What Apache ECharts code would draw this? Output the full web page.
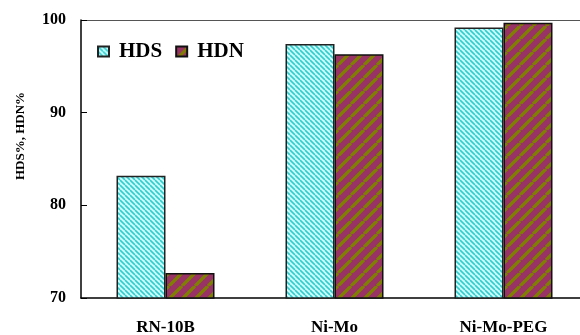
<!DOCTYPE html>
<html><head><meta charset="utf-8">
<script src="https://cdn.jsdelivr.net/npm/echarts@6/dist/echarts.min.js"></script>
<style>html,body{margin:0;padding:0;background:#fff}#c{width:580px;height:335px}</style>
</head><body><div id="c"></div>
<script>
const categories = ['RN-10B', 'Ni-Mo', 'Ni-Mo-PEG'];
const hdsValues = [83.2, 97.4, 99.2];
const hdnValues = [72.7, 96.3, 99.7];
const yTicks = [70, 80, 90, 100];

function stripePattern(bg, fg, size, lineW, dir) {
  const c = document.createElement('canvas');
  c.width = size; c.height = size;
  const ctx = c.getContext('2d');
  ctx.fillStyle = bg; ctx.fillRect(0, 0, size, size);
  ctx.strokeStyle = fg; ctx.lineWidth = lineW;
  ctx.beginPath();
  for (let k = -1; k <= 1; k++) {
    if (dir === 'back') { // "\" direction
      ctx.moveTo(k * size, 0); ctx.lineTo(k * size + size, size);
    } else { // "/" direction
      ctx.moveTo(k * size, size); ctx.lineTo(k * size + size, 0);
    }
  }
  ctx.stroke();
  return c;
}
const hdsPat = stripePattern('#ccffff', '#33cccc', 5, 1.6, 'back');
const hdnPat = stripePattern('#993366', '#808000', 13, 3.3, 'fwd');

const font = '"Liberation Serif", "Times New Roman", serif';
const chart = echarts.init(document.getElementById('c'));
chart.setOption({
  animation: false,
  grid: { left: 81, top: 20, width: 507, height: 278, outerBoundsMode: 'none', containLabel: false },
  legend: {
    left: 92, top: 36, itemWidth: 11, itemHeight: 10, itemGap: 13,
    textStyle: { fontFamily: font, fontWeight: 'bold', fontSize: 21, color: '#000', padding: [0, 0, 0, 5] },
    data: [{ name: 'HDS', icon: 'rect' }, { name: 'HDN', icon: 'rect' }]
  },
  xAxis: [{
    type: 'category', data: categories,
    axisLine: { lineStyle: { color: '#000', width: 1.5 } },
    axisTick: { inside: true, length: 6, lineStyle: { color: '#555' } },
    axisLabel: { fontFamily: font, fontWeight: 'bold', fontSize: 17, color: '#000', margin: 21 }
  }, {
    type: 'category', data: categories, position: 'top',
    axisLine: { lineStyle: { color: '#555', width: 1 } },
    axisTick: { show: false }, axisLabel: { show: false }
  }],
  yAxis: {
    type: 'value', min: yTicks[0], max: yTicks[yTicks.length - 1], interval: 10,
    name: 'HDS%, HDN%', nameLocation: 'middle', nameGap: 54, nameRotate: 90,
    nameTextStyle: { fontFamily: font, fontWeight: 'bold', fontSize: 13, color: '#000', padding: [0, 0, 0, 46] },
    axisLine: { show: true, lineStyle: { color: '#000', width: 1.5 } },
    axisTick: { show: true, inside: true, length: 6, lineStyle: { color: '#000' } },
    splitLine: { show: false },
    axisLabel: { fontFamily: font, fontWeight: 'bold', fontSize: 16, color: '#000', margin: 15 }
  },
  series: [{
    name: 'HDS', type: 'bar', data: hdsValues, barWidth: 49, barGap: '0%',
    itemStyle: { color: { image: hdsPat, repeat: 'repeat' }, borderColor: '#222', borderWidth: 1.5 }
  }, {
    name: 'HDN', type: 'bar', data: hdnValues, barWidth: 49, barGap: '0%',
    itemStyle: { color: { image: hdnPat, repeat: 'repeat' }, borderColor: '#111', borderWidth: 1.5 }
  }]
});
</script></body></html>
